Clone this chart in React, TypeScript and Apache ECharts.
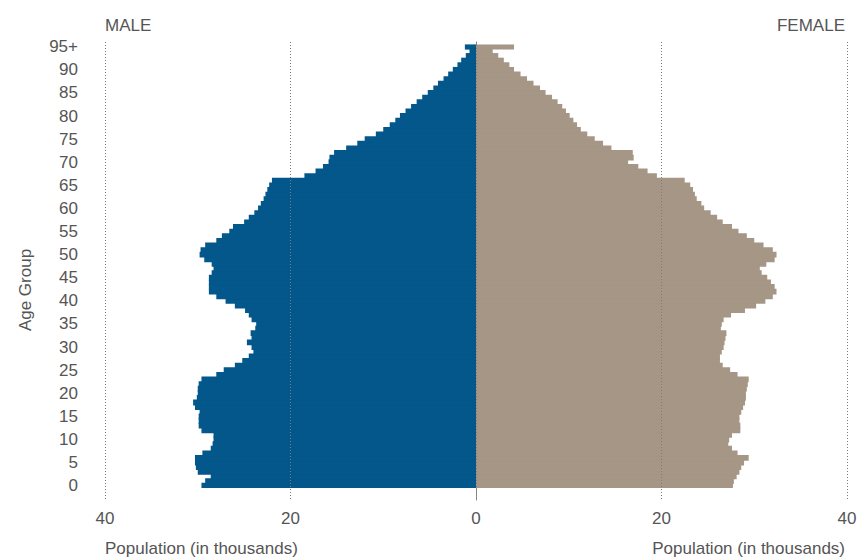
import React, { useEffect, useRef } from "react";
import * as echarts from "echarts";

const ageLabels: string[] = [];
for (let i = 0; i < 95; i++) ageLabels.push(String(i));
ageLabels.push("95+");

// Population in thousands, ages 0..95+
const maleValues = [
  29.6, 29.2, 28.6, 30.0, 30.2, 30.3, 30.3, 29.5, 28.6, 28.4,
  28.3, 28.3, 29.6, 29.9, 29.9, 29.9, 29.8, 30.3, 30.5, 30.1,
  30.0, 30.0, 29.9, 29.6, 28.0, 27.2, 26.0, 25.2, 24.5, 24.0,
  24.2, 24.7, 24.2, 24.3, 23.8, 23.7, 24.2, 24.5, 24.9, 26.0,
  27.0, 28.0, 28.8, 28.8, 28.8, 28.8, 28.5, 28.3, 28.5, 29.3,
  29.8, 29.7, 29.2, 28.0, 27.4, 26.6, 26.2, 25.0, 24.5, 23.9,
  23.5, 23.2, 22.9, 22.7, 22.5, 22.3, 22.0, 18.5, 17.3, 16.5,
  15.9, 15.8, 15.3, 14.0, 12.8, 12.0, 10.8, 10.0, 9.3, 8.7,
  8.2, 7.6, 7.0, 6.4, 5.8, 5.2, 4.6, 4.1, 3.5, 3.0,
  2.5, 2.0, 1.6, 1.1, 0.7, 1.2,
];

const femaleValues = [
  27.7, 27.8, 28.1, 28.4, 28.6, 28.9, 29.4, 28.2, 27.6, 27.2,
  27.3, 27.6, 28.5, 28.5, 28.4, 28.4, 28.6, 28.8, 29.0, 29.1,
  29.1, 29.2, 29.3, 29.4, 28.2, 27.4, 26.6, 26.3, 26.3, 26.5,
  26.7, 26.8, 26.9, 27.0, 26.4, 26.5, 26.7, 27.5, 29.0, 30.2,
  31.2, 32.0, 32.4, 32.2, 31.8, 31.4, 30.8, 30.6, 31.3, 32.2,
  32.4, 32.0, 31.0, 30.0, 29.2, 28.3, 27.6, 26.6, 26.0, 25.3,
  24.6, 24.3, 23.8, 23.6, 23.4, 23.1, 22.5, 19.5, 18.5, 17.5,
  16.4, 17.0, 16.9, 14.6, 13.7, 12.8, 12.0, 11.3, 10.9, 10.5,
  10.1, 9.7, 9.3, 8.8, 8.2, 7.5, 6.9, 6.2, 5.5, 4.8,
  4.1, 3.6, 3.0, 2.4, 1.8, 4.1,
];

const xTicks = [-40, -20, 0, 20, 40];

const MALE_COLOR = "#03578A";
const FEMALE_COLOR = "#A59686";
const TEXT_COLOR = "#555555";
const FONT = "Liberation Sans, Arial, sans-serif";

export default function App() {
  const ref = useRef<HTMLDivElement>(null);

  useEffect(() => {
    if (!ref.current) return;
    const chart = echarts.init(ref.current, undefined, { renderer: "svg" });
    chart.setOption({
      animation: false,
      backgroundColor: "#ffffff",
      textStyle: { fontFamily: FONT },
      grid: [
        { left: 105, right: 20, top: 44.4, bottom: 71, containLabel: false },
        { left: 105, right: 20, top: 42, bottom: 59, containLabel: false },
      ],
      xAxis: [
        {
          gridIndex: 0,
          type: "value",
          min: -40,
          max: 40,
          show: false,
        },
        {
          gridIndex: 1,
          type: "value",
          min: xTicks[0],
          max: xTicks[xTicks.length - 1],
          interval: 20,
          z: 5,
          axisLine: { show: false },
          axisTick: { show: false },
          splitLine: {
            show: true,
            lineStyle: { color: "#7a7a7a", type: [1, 2], width: 1 },
          },
          axisLabel: {
            color: TEXT_COLOR,
            fontSize: 17,
            fontFamily: FONT,
            margin: 10,
            showMinLabel: true,
            showMaxLabel: true,
            formatter: (v: number) => String(Math.abs(v)),
          },
        },
      ],
      yAxis: [
        {
          gridIndex: 0,
          type: "category",
          data: ageLabels,
          axisLine: { show: false },
          axisTick: { show: false },
          splitLine: { show: false },
          axisLabel: {
            interval: 4,
            color: TEXT_COLOR,
            fontSize: 17,
            fontFamily: FONT,
            margin: 27,
          },
        },
        {
          gridIndex: 1,
          type: "value",
          min: 0,
          max: 1,
          axisLine: {
            show: true,
            onZero: true,
            lineStyle: { color: "#8a8a8a", width: 1 },
          },
          axisTick: { show: false },
          axisLabel: { show: false },
          splitLine: { show: false },
        },
      ],
      series: [
        {
          name: "Male",
          type: "bar",
          xAxisIndex: 0,
          yAxisIndex: 0,
          data: maleValues.map((v) => -v),
          barWidth: 5.8,
          barGap: "-100%",
          itemStyle: { color: MALE_COLOR },
          z: 2,
        },
        {
          name: "Female",
          type: "bar",
          xAxisIndex: 0,
          yAxisIndex: 0,
          data: femaleValues,
          barWidth: 5.8,
          barGap: "-100%",
          itemStyle: { color: FEMALE_COLOR },
          z: 2,
        },
      ],
      graphic: [
        {
          type: "text",
          left: 105,
          top: 17,
          style: { text: "MALE", fill: TEXT_COLOR, font: `17px ${FONT}` },
        },
        {
          type: "text",
          right: 22,
          top: 17,
          style: { text: "FEMALE", fill: TEXT_COLOR, font: `17px ${FONT}` },
        },
        {
          type: "text",
          left: 105,
          top: 540,
          style: {
            text: "Population (in thousands)",
            fill: TEXT_COLOR,
            font: `17px ${FONT}`,
          },
        },
        {
          type: "text",
          right: 22,
          top: 540,
          style: {
            text: "Population (in thousands)",
            fill: TEXT_COLOR,
            font: `17px ${FONT}`,
          },
        },
        {
          type: "text",
          x: 25,
          y: 290,
          rotation: Math.PI / 2,
          style: {
            text: "Age Group",
            fill: TEXT_COLOR,
            font: `17px ${FONT}`,
            textAlign: "center",
            textVerticalAlign: "middle",
          },
        },
      ],
    });
    return () => chart.dispose();
  }, []);

  return (
    <div
      ref={ref}
      style={{ position: "fixed", left: 0, top: 0, width: 867, height: 559 }}
    />
  );
}
